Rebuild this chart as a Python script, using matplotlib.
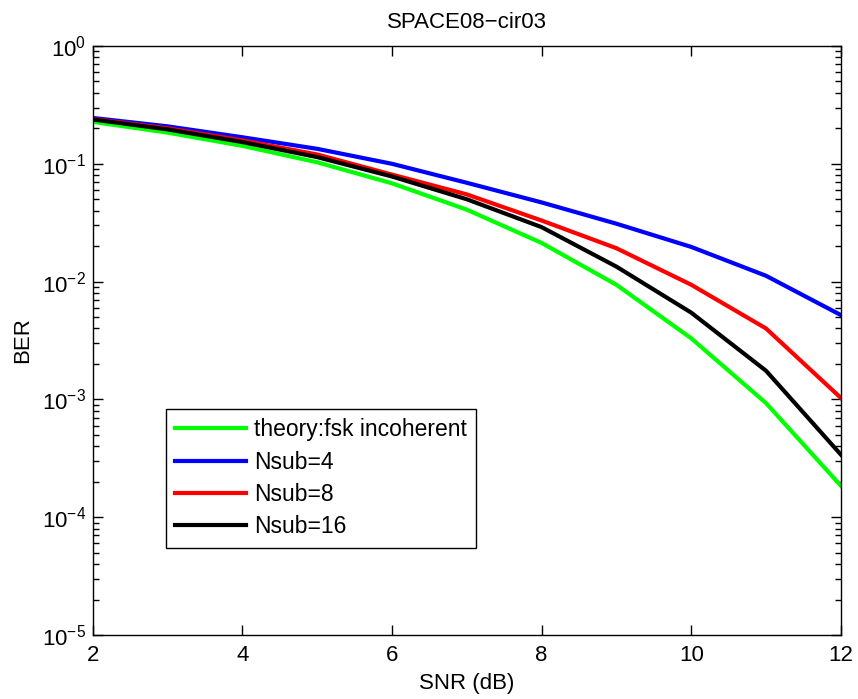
import numpy as np
import matplotlib
matplotlib.use('Agg')
import matplotlib.pyplot as plt
from matplotlib.ticker import LogLocator, NullFormatter, FixedLocator

plt.rcParams['font.family'] = ['Liberation Sans', 'DejaVu Sans']
plt.rcParams['mathtext.fontset'] = 'custom'
plt.rcParams['mathtext.rm'] = 'Liberation Sans'
plt.rcParams['mathtext.it'] = 'Liberation Sans'
plt.rcParams['mathtext.default'] = 'regular'

# SNR points (dB)
snr = [2, 3, 4, 5, 6, 7, 8, 9, 10, 11, 12]

# BER curves
ber_theory = [0.227, 0.184, 0.142, 0.103, 0.0683, 0.0408, 0.0213, 0.0094, 0.0033, 0.00093, 0.000185]
ber_nsub4 = [0.245, 0.208, 0.168, 0.134, 0.100, 0.069, 0.047, 0.031, 0.0197, 0.0112, 0.0052]
ber_nsub8 = [0.240, 0.200, 0.158, 0.120, 0.081, 0.055, 0.033, 0.0192, 0.0094, 0.0040, 0.00103]
ber_nsub16 = [0.238, 0.196, 0.153, 0.114, 0.078, 0.050, 0.029, 0.0134, 0.00545, 0.00175, 0.00034]

labels = ['theory:fsk incoherent', 'Nsub=4', 'Nsub=8', 'Nsub=16']
colors = ['#00ff00', '#0000ff', '#ff0000', '#000000']

fs = 16

fig = plt.figure(figsize=(8.58, 6.99), dpi=100)
ax = fig.add_axes([0.108, 0.0916, 0.872, 0.8426])

for y, lab, c in zip([ber_theory, ber_nsub4, ber_nsub8, ber_nsub16], labels, colors):
    ax.semilogy(snr, y, color=c, lw=3, label=lab)

ax.set_xlim(2, 12)
ax.set_ylim(1e-5, 1)
ax.xaxis.set_major_locator(FixedLocator([2, 4, 6, 8, 10, 12]))
ax.yaxis.set_major_locator(LogLocator(base=10, numticks=10))
ax.yaxis.set_minor_locator(LogLocator(base=10, subs=np.arange(2, 10), numticks=10))
ax.yaxis.set_minor_formatter(NullFormatter())

ax.tick_params(which='both', direction='in', top=True, right=True, labelsize=fs, width=1)
ax.tick_params(which='major', length=7)
ax.tick_params(which='minor', length=4)
ax.tick_params(axis='x', which='major', pad=7)
ax.tick_params(axis='y', which='major', pad=5)
for s in ax.spines.values():
    s.set_linewidth(1)

ax.set_xlabel('SNR (dB)', fontsize=fs, labelpad=5)
ax.set_ylabel('BER', fontsize=fs, labelpad=6)
ax.set_title('SPACE08\u2212cir03', fontsize=fs, pad=13)

leg = ax.legend(loc='upper left', bbox_to_anchor=(0.0976, 0.384), fontsize=16.5,
                fancybox=False, edgecolor='black', framealpha=1, borderpad=0.42,
                handlelength=3.1, labelspacing=0.4, handletextpad=0.32,
                borderaxespad=0)
leg.get_frame().set_linewidth(1)

fig.savefig('out.png', dpi=100)
